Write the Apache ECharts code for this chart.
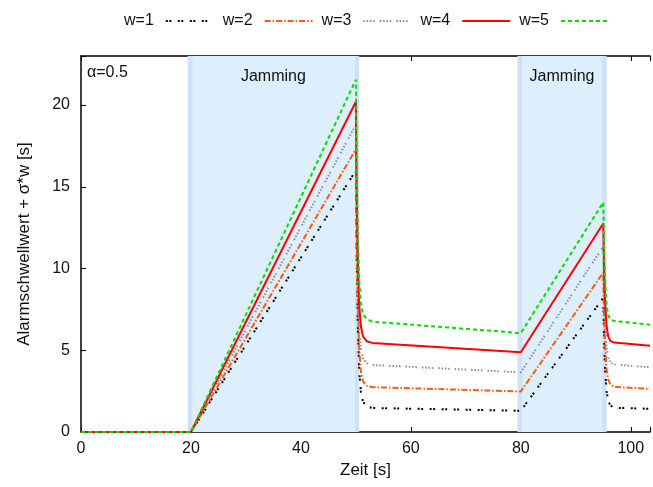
<!DOCTYPE html>
<html>
<head>
<meta charset="utf-8">
<script src="https://cdn.jsdelivr.net/npm/echarts@6/dist/echarts.min.js"></script>
<style>
  html, body { margin: 0; padding: 0; background: #fff; }
  #chart { width: 653px; height: 487px; }
</style>
</head>
<body>
<div id="chart"></div>
<script>
// Time samples [s]
const zeit = [0, 20, 50, 50.15, 50.35, 50.6, 50.9, 51.3, 52.0, 53.0, 80, 95, 95.15, 95.35, 95.6, 95.9, 96.3, 97.0, 98.0, 103.5];

// Alarm threshold + sigma*w for each window size w
const w1 = [0, 0, 16.0, 10.7, 6.6, 3.8, 2.5, 1.85, 1.55, 1.47, 1.30, 8.2, 5.6, 3.7, 2.5, 1.9, 1.62, 1.5, 1.47, 1.42];
const w2 = [0, 0, 17.3, 12.0, 7.9, 5.1, 3.75, 3.1, 2.82, 2.74, 2.48, 9.75, 7.1, 5.1, 3.85, 3.2, 2.9, 2.77, 2.74, 2.64];
const w3 = [0, 0, 18.8, 13.4, 9.2, 6.45, 5.15, 4.5, 4.2, 4.10, 3.65, 11.35, 8.5, 6.5, 5.2, 4.55, 4.25, 4.13, 4.1, 3.96];
const w4 = [0, 0, 20.2, 14.7, 10.6, 7.8, 6.5, 5.85, 5.55, 5.45, 4.88, 12.75, 9.9, 7.8, 6.5, 5.85, 5.57, 5.47, 5.44, 5.28];
const w5 = [0, 0, 21.55, 16.0, 12.0, 9.3, 7.9, 7.2, 6.9, 6.75, 6.05, 14.05, 11.2, 9.1, 7.8, 7.15, 6.88, 6.79, 6.76, 6.56];

// Jamming intervals [s]
const jamming = [[20, 50], [80, 95]];

const names = ['w=1', 'w=2', 'w=3', 'w=4', 'w=5'];
const values = [w1, w2, w3, w4, w5];
const styles = [
  { color: '#000000', width: 2, type: [2, 1.5, 2, 6.5] },
  { color: '#ff5a10', width: 2, type: [6, 2, 1.5, 2] },
  { color: '#8c8c8c', width: 2, type: [1.5, 1.8, 1.5, 1.8, 1.5, 1.8, 1.5, 5] },
  { color: '#ff0000', width: 2, type: 'solid' },
  { color: '#00dd00', width: 2, type: [4, 3] }
];

const FONT = '"Liberation Sans", Arial, Helvetica, sans-serif';
const XMAX = 103.5, YMAX = 23;

// Shaded bands: light fill with slightly darker edge strips
const bandAreas = [];
jamming.forEach(([a, b]) => {
  bandAreas.push([{ xAxis: a, yAxis: 0, itemStyle: { color: '#ddeefd' },
                   label: { show: true, position: 'insideTop', distance: 13, formatter: 'Jamming',
                            color: '#111', fontSize: 16, fontFamily: FONT } },
                  { xAxis: b, yAxis: YMAX }]);
  bandAreas.push([{ xAxis: a - 0.6, yAxis: 0, itemStyle: { color: '#cfe0f9' } }, { xAxis: a + 0.25, yAxis: YMAX }]);
  bandAreas.push([{ xAxis: b - 0.15, yAxis: 0, itemStyle: { color: '#cfe0f9' } }, { xAxis: b + 0.6, yAxis: YMAX }]);
});

const series = [{
  type: 'line',
  name: 'bands',
  data: [],
  z: 1,
  silent: true,
  markArea: { silent: true, data: bandAreas }
}];
names.forEach((n, i) => {
  series.push({
    type: 'line',
    name: n,
    z: 3,
    symbol: 'none',
    animation: false,
    lineStyle: styles[i],
    itemStyle: { color: styles[i].color },
    data: zeit.map((t, k) => [t, values[i][k]])
  });
});

const chart = echarts.init(document.getElementById('chart'), null, { renderer: 'canvas' });
chart.setOption({
  animation: false,
  backgroundColor: '#ffffff',
  textStyle: { fontFamily: FONT },
  grid: { left: 81, right: 0, top: 56, bottom: 55 },
  title: {
    text: 'α=0.5', left: 82, top: 60,
    textStyle: { fontSize: 16, fontWeight: 'normal', color: '#111', fontFamily: FONT }
  },
  legend: {
    data: names,
    left: 119, top: 8,
    align: 'right',
    itemWidth: 48, itemHeight: 14, itemGap: 8,
    itemStyle: { opacity: 0 },
    textStyle: { fontSize: 16, color: '#111', fontFamily: FONT, padding: [0, 7, 0, 0] }
  },
  xAxis: [{
    type: 'value', min: 0, max: XMAX, interval: 20,
    name: 'Zeit [s]', nameLocation: 'middle', nameGap: 24,
    nameTextStyle: { fontSize: 17, color: '#111', fontFamily: FONT },
    axisLine: { lineStyle: { color: '#000', width: 1.5 } },
    axisTick: { inside: true, length: 5, lineStyle: { color: '#000' } },
    axisLabel: { fontSize: 16, color: '#111', margin: 9,
                 formatter: v => (v % 20 === 0 ? String(v) : '') },
    splitLine: { show: false }
  }, {
    type: 'value', min: 0, max: XMAX, interval: 20, position: 'top',
    axisLine: { lineStyle: { color: '#000', width: 1.5 } },
    axisTick: { inside: true, length: 5, lineStyle: { color: '#000' } },
    axisLabel: { show: false },
    splitLine: { show: false }
  }],
  yAxis: {
    type: 'value', min: 0, max: YMAX, interval: 5,
    name: 'Alarmschwellwert + σ*w [s]', nameLocation: 'middle', nameGap: 48,
    nameTextStyle: { fontSize: 17, color: '#111', fontFamily: FONT },
    axisLine: { show: true, lineStyle: { color: '#000', width: 1.5 } },
    axisTick: { show: true, inside: true, length: 5, lineStyle: { color: '#000' } },
    axisLabel: { fontSize: 16, color: '#111', margin: 11,
                 formatter: v => (v % 5 === 0 ? String(v) : '') },
    splitLine: { show: false }
  },
  series: series
});
</script>
</body>
</html>
